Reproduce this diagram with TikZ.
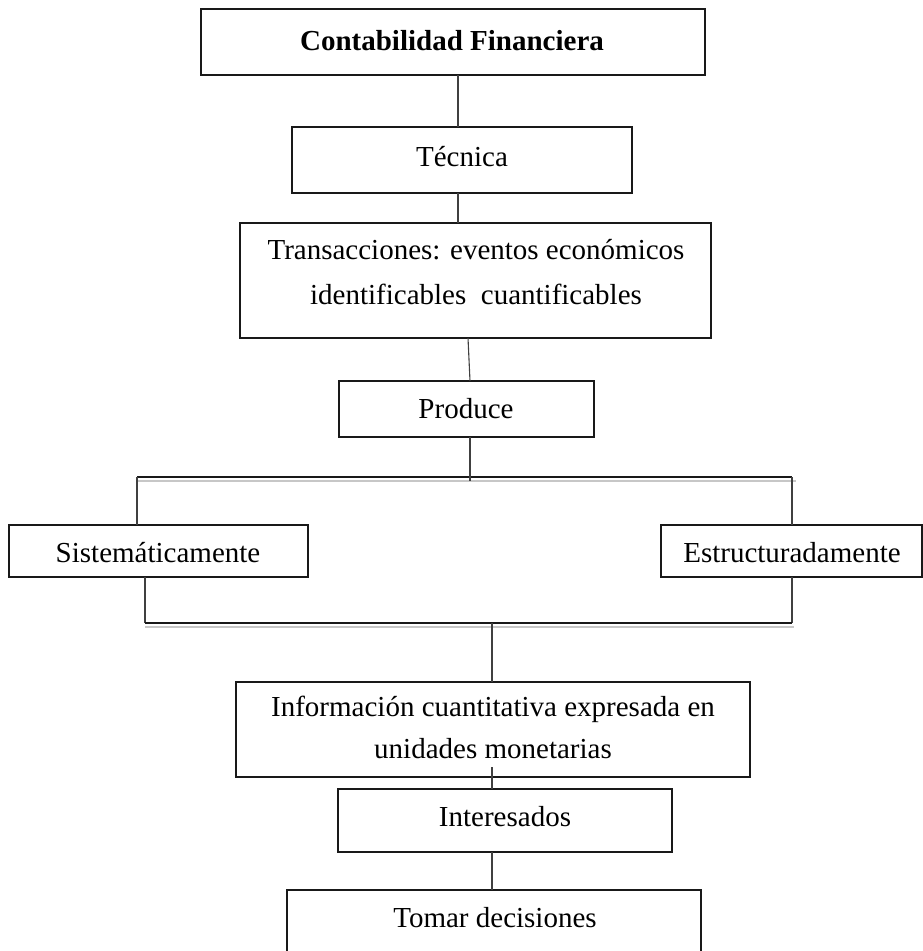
\documentclass[tikz,border=0pt]{standalone}
\usepackage{fontspec}
\setmainfont{Liberation Serif}
\usetikzlibrary{calc}
\begin{document}
\begin{tikzpicture}[x=1pt,y=-1pt,
  box/.style={draw=black!90, line width=1.1pt, inner sep=0pt, outer sep=0pt, rectangle},
  lbl/.style={anchor=base, inner sep=0pt, font=\fontsize{29}{34}\selectfont},
  link/.style={draw=black!75, line width=1.1pt},
  rail/.style={draw=black!90, line width=1.1pt},
  railshade/.style={draw=black!22, line width=2pt}]
\useasboundingbox[fill=white] (0,0) rectangle (923,951);

% ---- boxes ----
\node[box, minimum width=504pt, minimum height=66pt]  (contab) at (453,42)    {};
\node[box, minimum width=340pt, minimum height=66pt]  (tec)    at (462,160)   {};
\node[box, minimum width=471pt, minimum height=115pt] (trans)  at (475.5,280.5) {};
\node[box, minimum width=255pt, minimum height=56pt]  (prod)   at (466.5,409) {};
\node[box, minimum width=299pt, minimum height=52pt]  (sist)   at (158.5,551) {};
\node[box, minimum width=261pt, minimum height=52pt]  (estr)   at (791.5,551) {};
\node[box, minimum width=514pt, minimum height=95pt]  (info)   at (493,729.5) {};
\node[box, minimum width=334pt, minimum height=63pt]  (inter)  at (505,820.5) {};
\node[box, minimum width=414pt, minimum height=66pt]  (tomar)  at (494,923)   {};

% ---- texts ----
\node[lbl, font=\fontsize{29}{34}\selectfont\bfseries] (contabT) at (452,50) {Contabilidad Financiera};
\node[lbl] (tecT)    at (462,166) {Técnica};
\node[lbl] (transT1) at (476,259) {Transacciones: eventos económicos};
\node[lbl] (transT2) at (476,304) {identificables~ cuantificables};
\node[lbl] (prodT)   at (466,418) {Produce};
\node[lbl] (sistT)   at (158,562) {Sistemáticamente};
\node[lbl] (estrT)   at (792,562) {Estructuradamente};
\node[lbl] (infoT1)  at (493,716) {Información cuantitativa expresada en};
\node[lbl] (infoT2)  at (493,758) {unidades monetarias};
\node[lbl] (interT)  at (505,826) {Interesados};
\node[lbl] (tomarT)  at (495,927) {Tomar decisiones};

% ---- reference points for connectors ----
\coordinate (spineA)  at (458,0);
\coordinate (spineB)  at (468,0);
\coordinate (spineC)  at (470,0);
\coordinate (topL)    at (137,477);
\coordinate (topR)    at (792,477);
\coordinate (topLs)   at (137,481);
\coordinate (topRs)   at (796,481);
\coordinate (topMid)  at (470,481);
\coordinate (botL)    at (145,623);
\coordinate (botR)    at (792,623);
\coordinate (botLs)   at (145,627);
\coordinate (botRs)   at (794,627);
\coordinate (botMid)  at (492,623);
\coordinate (infoTail) at (492,767);

% ---- vertical spine ----
\draw[link] (contab.south -| spineA) -- (tec.north -| spineA);
\draw[link] (tec.south -| spineA) -- (trans.north -| spineA);
\draw[link] (trans.south -| spineB) -- (prod.north -| spineC);

% ---- upper split ----
\draw[railshade] (topLs) -- (topRs);
\draw[rail] (topL) -- (topR);
\draw[link] (prod.south -| topMid) -- (topMid);
\draw[link] (topL) -- (topL |- sist.north);
\draw[link] (topR) -- (topR |- estr.north);

% ---- lower join ----
\draw[link] (sist.south -| botL) -- (botL);
\draw[link] (estr.south -| botR) -- (botR);
\draw[railshade] (botLs) -- (botRs);
\draw[rail] (botL) -- (botR);
\draw[link] (botMid) -- (botMid |- info.north);

% ---- bottom chain ----
\draw[link] (infoTail) -- (infoTail |- inter.north);
\draw[link] (inter.south -| infoTail) -- (tomar.north -| infoTail);
\end{tikzpicture}
\end{document}
